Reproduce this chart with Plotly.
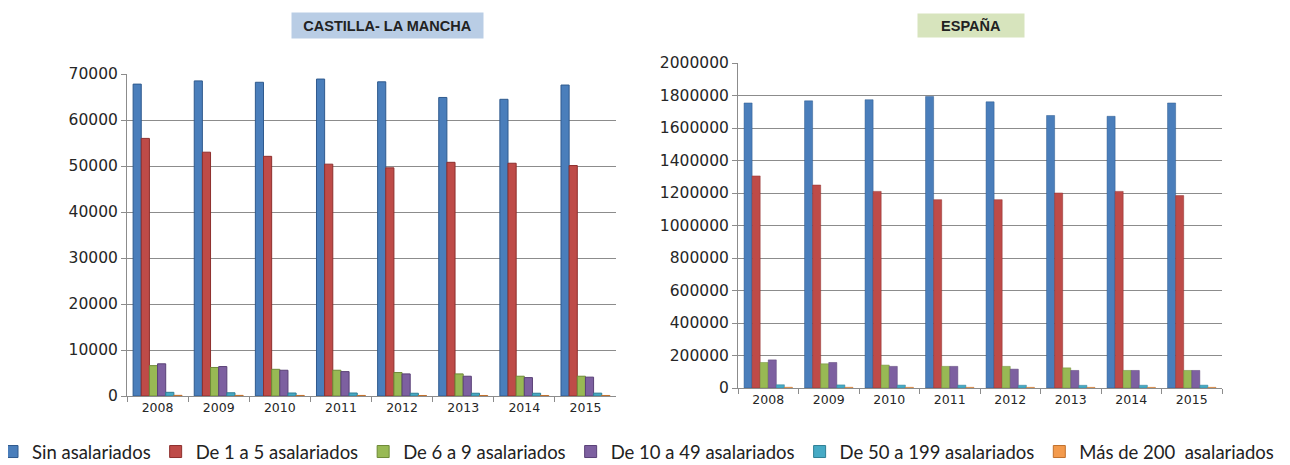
"""Empresas por número de asalariados: Castilla-La Mancha vs España (2008-2015)."""

import plotly.graph_objects as go

years = ["2008", "2009", "2010", "2011", "2012", "2013", "2014", "2015"]

series_names = [
    "Sin asalariados",
    "De 1 a 5 asalariados",
    "De 6 a 9 asalariados",
    "De 10 a 49 asalariados",
    "De 50 a 199 asalariados",
    "Más de 200  asalariados",
]

# Castilla-La Mancha
clm_sin = [67800, 68500, 68200, 68900, 68300, 64900, 64500, 67600]
clm_1_5 = [56000, 53000, 52100, 50400, 49600, 50800, 50600, 50100]
clm_6_9 = [6600, 6200, 5800, 5600, 5100, 4800, 4300, 4300]
clm_10_49 = [7000, 6400, 5600, 5300, 4800, 4300, 4000, 4100]
clm_50_199 = [800, 700, 650, 650, 600, 600, 600, 620]
clm_200 = [140, 130, 120, 120, 110, 110, 110, 115]

# España
esp_sin = [1754000, 1767000, 1774000, 1794000, 1761000, 1677000, 1672000, 1754000]
esp_1_5 = [1305000, 1249000, 1210000, 1159000, 1159000, 1200000, 1210000, 1184000]
esp_6_9 = [157000, 149000, 141000, 133000, 133000, 124000, 108000, 108000]
esp_10_49 = [173000, 157000, 133000, 133000, 116000, 108000, 108000, 108000]
esp_50_199 = [20000, 19000, 18000, 17500, 17000, 16500, 17000, 17500]
esp_200 = [4600, 4400, 4200, 4100, 4000, 3900, 3900, 4000]

colors = ["#4a7ebb", "#be4b48", "#98b954", "#7d60a0", "#46aac5", "#f39a4c"]
edges = ["#2f5a8e", "#8e2f2d", "#6e8a37", "#5a4177", "#2f7f95", "#c0702c"]

clm = [clm_sin, clm_1_5, clm_6_9, clm_10_49, clm_50_199, clm_200]
esp = [esp_sin, esp_1_5, esp_6_9, esp_10_49, esp_50_199, esp_200]

W, H = 1290, 465
OFF = 8  # page body margin offsets the figure on screen
MB = 30  # bottom margin, keeps the legend "below" the plotting paper
PH = H - MB


def px(x):
    return (x - OFF) / W


def py(y):
    return (PH - (y - OFF)) / PH


fig = go.Figure()

for name, values, color, edge in zip(series_names, clm, colors, edges):
    fig.add_trace(
        go.Bar(
            x=years,
            y=values,
            name=name,
            marker=dict(color=color, line=dict(color=edge, width=1)),
            xaxis="x",
            yaxis="y",
            legendgroup=name,
        )
    )

for name, values, color, edge in zip(series_names, esp, colors, edges):
    fig.add_trace(
        go.Bar(
            x=years,
            y=values,
            name=name,
            marker=dict(color=color, line=dict(color=edge, width=0.5)),
            xaxis="x2",
            yaxis="y2",
            legendgroup=name,
            showlegend=False,
        )
    )

grid = "#8c8c8c"
tick_font = dict(family="DejaVu Sans, sans-serif", size=15.5, color="#262626")

xaxis_common = dict(
    type="category",
    showline=True,
    linecolor=grid,
    linewidth=1,
    ticks="outside",
    tickson="boundaries",
    ticklen=5,
    tickcolor=grid,
    showgrid=False,
    tickfont=dict(family="DejaVu Sans, sans-serif", size=12.5, color="#262626"),
    fixedrange=True,
)
yaxis_common = dict(
    showline=True,
    linecolor=grid,
    linewidth=1,
    ticks="outside",
    ticklen=5,
    tickcolor=grid,
    showgrid=True,
    gridcolor=grid,
    gridwidth=1.2,
    zeroline=False,
    tickformat="d",
    tickfont=tick_font,
    fixedrange=True,
)

fig.update_layout(
    width=W,
    height=H,
    margin=dict(l=0, r=0, t=0, b=MB, autoexpand=False),
    paper_bgcolor="white",
    plot_bgcolor="white",
    barmode="group",
    bargap=0.2,
    bargroupgap=0,
    xaxis=dict(xaxis_common, domain=[px(127), px(616)], anchor="y"),
    yaxis=dict(
        yaxis_common,
        domain=[py(396), py(74)],
        range=[0, 70000],
        dtick=10000,
        anchor="x",
    ),
    xaxis2=dict(xaxis_common, domain=[px(738), px(1222)], anchor="y2"),
    yaxis2=dict(
        yaxis_common,
        domain=[py(388), py(63)],
        range=[0, 2000000],
        dtick=200000,
        anchor="x2",
    ),
    legend=dict(
        orientation="h",
        x=-16 / W,
        xanchor="left",
        y=py(452),
        yanchor="middle",
        font=dict(family="Lato, Open Sans, sans-serif", size=18.5, color="#222222"),
        itemwidth=30,
        tracegroupgap=0,
    ),
    showlegend=True,
)

title_font = dict(family="Liberation Sans Narrow, Liberation Sans, Arial, sans-serif", size=14.5, color="#222222")
fig.add_annotation(
    x=px(387),
    y=py(25),
    xref="paper",
    yref="paper",
    text="<b>CASTILLA- LA MANCHA</b>",
    showarrow=False,
    font=title_font,
    bgcolor="#b9cde5",
    width=185,
    height=19,
    borderpad=3,
    xanchor="center",
    yanchor="middle",
)
fig.add_annotation(
    x=px(971),
    y=py(25),
    xref="paper",
    yref="paper",
    text="<b>ESPAÑA</b>",
    showarrow=False,
    font=title_font,
    bgcolor="#d7e4bd",
    width=100,
    height=17,
    borderpad=3,
    xanchor="center",
    yanchor="middle",
)

fig.write_html("out.html")
